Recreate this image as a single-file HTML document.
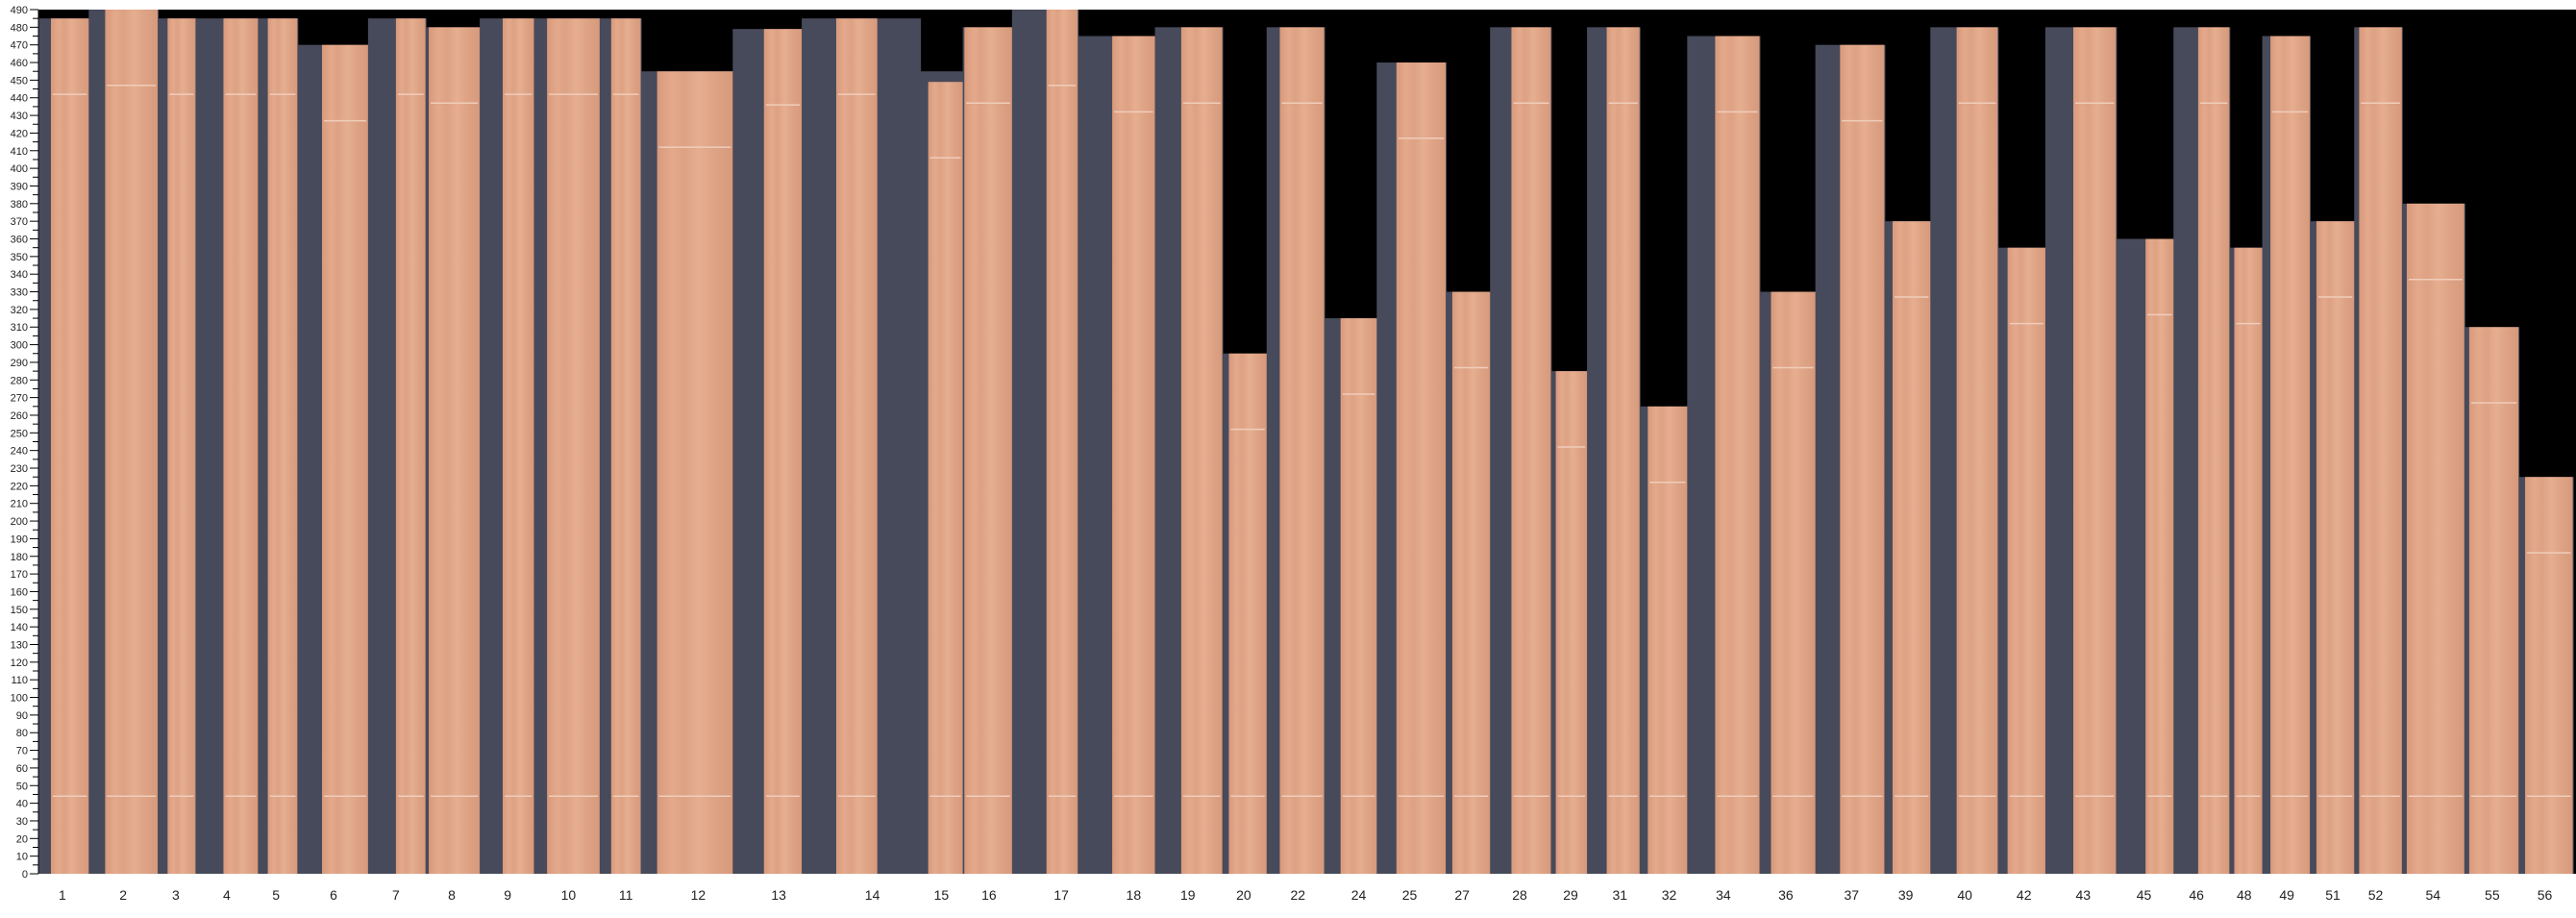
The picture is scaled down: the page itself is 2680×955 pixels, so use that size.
<!DOCTYPE html>
<html><head><meta charset="utf-8"><style>
body{margin:0;background:#fff;width:2680px;height:950px;overflow:hidden;font-family:"Liberation Sans",sans-serif}
</style></head><body>
<svg id="s" width="2680" height="950" xmlns="http://www.w3.org/2000/svg">
<defs>
<linearGradient id="w" x1="0" x2="1" y1="0" y2="0">
<stop offset="0" stop-color="#d8997b"/><stop offset="0.2" stop-color="#e4a98b"/><stop offset="0.35" stop-color="#dda183"/><stop offset="0.55" stop-color="#e6ae90"/><stop offset="0.75" stop-color="#dea385"/><stop offset="1" stop-color="#d6997c"/>
</linearGradient>
</defs>
</svg>
<script>
const s=document.getElementById('s'),NS='http://www.w3.org/2000/svg';
function el(t,a,txt){const e=document.createElementNS(NS,t);for(const k in a)e.setAttribute(k,a[k]);if(txt!==undefined)e.textContent=txt;s.appendChild(e);return e;}
const K=2680/1568;
const Y=v=>909-v*1.8347;
el('rect',{x:40,y:Y(490),width:2640,height:Y(0)-Y(490),fill:'#000'});
const B=[[1,31,54,485,38],[2,64,96,490,75],[3,102,119,485,107],[4,136,157,485,138],[5,163,181,485,168],[6,196,224,470,203],[7,241,259,485,241],[8,261,292,480,275],[9,306,325,485,309],[10,333,365,485,346],[11,372,390,485,381],[12,400,446,455,425],[13,465,488,479,474],[14,509,534,485,531],[15,565,586,449,573],[16,587,616,480,602],[17,637,656,490,646],[18,677,703,475,690],[19,719,744,480,723],[20,748,771,295,757],[22,779,806,480,790],[24,816,838,315,827],[25,850,880,460,858],[27,884,907,330,890],[28,920,944,480,925],[29,947,966,285,956],[31,978,998,480,986],[32,1003,1027,265,1016],[34,1044,1071,475,1049],[36,1078,1105,330,1087],[37,1120,1147,470,1127],[39,1152,1175,370,1160],[40,1191,1216,480,1196],[42,1222,1245,355,1232],[43,1262,1288,480,1268],[45,1306,1323,360,1305],[46,1338,1357,480,1337],[48,1360,1377,355,1366],[49,1382,1406,475,1392],[51,1410,1433,370,1420],[52,1436,1462,480,1446],[54,1465,1500,380,1481],[55,1503,1533,310,1517],[56,1537,1566,225,1549]];
let prev=40;
B.forEach((b,i)=>{let r=b[2]*K;
 let dtop=b[3]; if(b[0]==15)dtop=455;
 if(b[0]==14)r=560*K;
 el('rect',{x:prev,y:Y(dtop),width:r-prev+1,height:909-Y(dtop),fill:'#474a5a'});
 prev=r;});
B.forEach(b=>{const l=b[1]*K,r=b[2]*K,top=Y(b[3]);
 el('rect',{x:l,y:top,width:r-l,height:909-top,fill:'url(#w)'});
 el('line',{x1:l+2,x2:r-2,y1:Y(b[3]-43),y2:Y(b[3]-43),stroke:'#f0cdbb','stroke-width':1.5});
 el('line',{x1:l+2,x2:r-2,y1:Y(44),y2:Y(44),stroke:'#f0cdbb','stroke-width':1.5});
 el('text',{x:b[4]*K,y:936,'font-size':14,'text-anchor':'middle',fill:'#222'},b[0]);
});
el('line',{x1:40,x2:40,y1:Y(490),y2:909,stroke:'#000','stroke-width':1});
for(let v=0;v<=490;v+=5){const y=Y(v);
 el('line',{x1:v%10?34:31,x2:40,y1:y,y2:y,stroke:'#000','stroke-width':1});
 if(v%10==0)el('text',{x:29,y:y+4,'font-size':11,'text-anchor':'end',fill:'#222'},v);}
</script>
</body></html>
